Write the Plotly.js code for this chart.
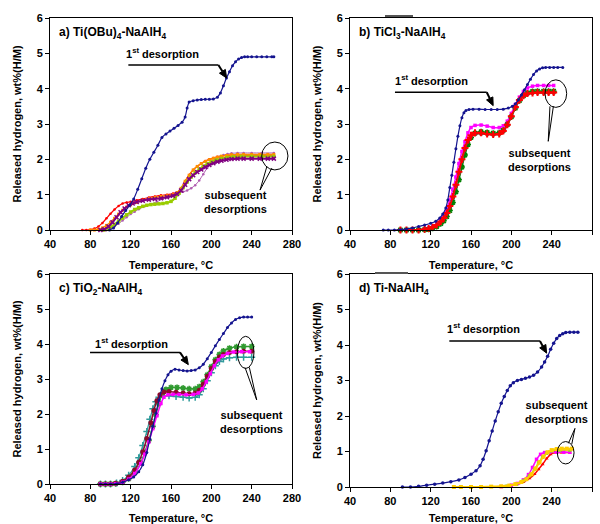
<!DOCTYPE html>
<html>
<head>
<meta charset="utf-8">
<script src="https://cdn.plot.ly/plotly-3.0.1.min.js"></script>
<style>html,body{margin:0;padding:0;background:#fff;}#chart{width:600px;height:524px;}</style>
</head>
<body>
<div id="chart"></div>
<script>
// ---------- DATA ----------
const panelLabels = ["a) Ti(OBu)<sub>4</sub>-NaAlH<sub>4</sub>", "b) TiCl<sub>3</sub>-NaAlH<sub>4</sub>", "c) TiO<sub>2</sub>-NaAlH<sub>4</sub>", "d) Ti-NaAlH<sub>4</sub>"];
const xTicks = [40, 80, 120, 160, 200, 240, 280];
const yTicks = [0, 1, 2, 3, 4, 5, 6];

// Panel a
const a_first_T = [99,103,107,111,115,119,123,127,131,135,139,143,147,151,155,159,163,167,171,174,176,178,182,186,190,194,198,202,206,209,212,215,218,221,224,227,230,233,236,240,245,250,255,260,262];
const a_first_H = [0,0.06,0.2,0.38,0.55,0.7,0.88,1.15,1.45,1.75,2.0,2.2,2.4,2.62,2.72,2.8,2.88,2.96,3.05,3.2,3.45,3.62,3.66,3.68,3.69,3.7,3.7,3.71,3.76,3.88,4.08,4.3,4.48,4.65,4.76,4.84,4.88,4.9,4.9,4.9,4.9,4.9,4.9,4.9,4.9];
const a_red_T = [72,76,80,84,88,92,96,100,104,108,112,116,120,126,132,138,144,150,156,162,166,170,174,178,182,186,190,194,198,202,206,210,215,220,226,232,240,248,256,262];
const a_red_H = [0,0,0.01,0.04,0.1,0.2,0.33,0.46,0.58,0.68,0.75,0.78,0.8,0.84,0.88,0.92,0.95,0.98,1.0,1.03,1.07,1.18,1.38,1.56,1.7,1.8,1.88,1.95,2.0,2.04,2.07,2.09,2.11,2.12,2.12,2.12,2.12,2.12,2.12,2.12];
const a_orange_T = [80,84,88,92,96,100,104,108,112,116,120,126,132,138,144,150,156,162,166,170,174,178,182,186,190,194,198,202,206,210,215,220,226,232,240,248,256,262];
const a_orange_H = [0,0,0.02,0.06,0.13,0.22,0.33,0.45,0.56,0.65,0.71,0.78,0.84,0.89,0.92,0.95,0.97,1.0,1.05,1.18,1.38,1.55,1.7,1.8,1.88,1.94,1.99,2.03,2.06,2.09,2.11,2.13,2.14,2.14,2.14,2.14,2.14,2.14];
const a_purple_T = [90,94,98,102,106,110,114,118,122,126,132,138,144,150,156,162,166,170,174,178,182,186,190,194,198,202,206,210,215,220,226,232,240,248,256,262];
const a_purple_H = [0,0.02,0.1,0.22,0.36,0.5,0.61,0.7,0.75,0.79,0.83,0.86,0.88,0.9,0.93,0.97,1.02,1.12,1.28,1.44,1.55,1.64,1.71,1.78,1.84,1.89,1.93,1.96,1.99,2.01,2.02,2.02,2.02,2.02,2.02,2.02];
const a_green_T = [93,96,100,104,108,112,116,120,124,128,132,136,140,144,148,152,156,160,164,168,172,176,180,184,188,192,196,200,205,210,216,222,230,240,250,262];
const a_green_H = [0,0.02,0.08,0.16,0.25,0.34,0.43,0.51,0.58,0.63,0.67,0.7,0.72,0.73,0.74,0.75,0.77,0.81,0.9,1.04,1.2,1.36,1.5,1.62,1.72,1.8,1.87,1.93,1.98,2.02,2.05,2.07,2.08,2.08,2.08,2.08];
const a_mauve_T = [96,100,104,108,112,116,120,124,128,134,140,146,152,158,164,168,172,176,180,184,188,192,196,200,204,208,212,216,220,226,232,240,250,262];
const a_mauve_H = [0,0.04,0.1,0.18,0.27,0.36,0.45,0.52,0.59,0.67,0.73,0.8,0.88,0.95,1.0,1.04,1.08,1.12,1.18,1.27,1.4,1.58,1.76,1.9,2.0,2.07,2.12,2.15,2.17,2.18,2.18,2.18,2.18,2.18];

// Panel b
const b_first_T = [73,78,84,90,96,102,108,114,120,125,129,132,135,137,139,141,143,145,147,149,151,153,155,158,162,168,174,180,186,192,197,201,204,207,210,213,216,219,222,225,228,231,234,238,242,246,251];
const b_first_H = [0,0,0,0.01,0.03,0.06,0.1,0.14,0.19,0.25,0.34,0.45,0.62,0.85,1.2,1.55,1.92,2.3,2.65,2.95,3.18,3.32,3.38,3.41,3.42,3.42,3.41,3.41,3.41,3.42,3.45,3.5,3.57,3.68,3.82,3.97,4.12,4.27,4.4,4.5,4.56,4.59,4.6,4.6,4.6,4.6,4.6];
const b_sub_T = [90,96,102,108,114,118,122,126,130,133,136,139,142,145,148,151,154,157,160,164,170,176,182,188,192,196,200,204,208,212,216,221,226,232,237,242];
const b_magenta_H = [0,0,0,0.01,0.03,0.06,0.11,0.19,0.3,0.42,0.6,0.85,1.15,1.5,1.88,2.22,2.5,2.75,2.9,2.96,2.97,2.94,2.9,2.9,2.95,3.08,3.3,3.55,3.76,3.92,4.02,4.07,4.09,4.09,4.09,4.09];
const b_green_H = [0,0,0,0,0.01,0.02,0.05,0.1,0.18,0.26,0.38,0.55,0.78,1.08,1.42,1.78,2.12,2.42,2.62,2.74,2.78,2.76,2.74,2.75,2.82,2.98,3.2,3.45,3.66,3.8,3.88,3.92,3.93,3.93,3.93,3.93];
const b_maroon_H = [0,0,0,0,0.02,0.04,0.08,0.14,0.23,0.33,0.47,0.66,0.92,1.24,1.6,1.95,2.28,2.5,2.64,2.71,2.72,2.7,2.69,2.71,2.78,2.96,3.2,3.46,3.66,3.78,3.84,3.87,3.88,3.88,3.88,3.88];
const b_red_H = [0,0,0,0,0.02,0.04,0.08,0.14,0.24,0.34,0.48,0.68,0.95,1.28,1.65,2.0,2.32,2.55,2.68,2.75,2.75,2.72,2.7,2.72,2.8,2.98,3.22,3.48,3.68,3.8,3.86,3.88,3.89,3.89,3.89,3.89];

// Panel c
const c_first_T = [90,95,100,106,112,118,123,128,132,136,139,142,145,148,151,154,157,160,164,168,172,176,180,184,188,192,196,200,204,208,212,216,220,224,228,232,236,240];
const c_first_H = [0,0,0,0.01,0.05,0.12,0.2,0.35,0.55,0.9,1.28,1.65,2.02,2.4,2.72,2.95,3.12,3.22,3.28,3.26,3.24,3.23,3.24,3.26,3.32,3.42,3.58,3.76,3.95,4.13,4.3,4.47,4.6,4.7,4.75,4.77,4.77,4.77];
const c_teal_T = [90,95,100,106,112,118,124,128,132,136,139,142,145,148,152,158,165,172,178,184,188,192,196,200,204,208,212,218,225,232,240];
const c_teal_H = [0,0,0,0.03,0.1,0.25,0.5,0.75,1.1,1.5,1.85,2.15,2.35,2.48,2.52,2.52,2.5,2.48,2.46,2.48,2.55,2.72,2.95,3.18,3.38,3.5,3.57,3.61,3.62,3.62,3.62];
const c_maroon_T = [90,95,100,105,112,118,124,128,132,136,140,143,146,149,153,158,165,172,178,184,188,192,196,200,204,208,212,218,225,232,240];
const c_maroon_H = [0,0,0,0.02,0.08,0.2,0.4,0.62,0.92,1.3,1.75,2.1,2.38,2.55,2.63,2.64,2.62,2.6,2.58,2.6,2.68,2.85,3.08,3.3,3.5,3.63,3.7,3.76,3.78,3.79,3.79];
const c_green_T = [90,95,100,105,112,118,124,130,134,138,142,145,148,151,155,160,166,172,178,184,188,192,196,200,204,208,212,218,225,232,240];
const c_green_H = [0,0,0,0.01,0.05,0.15,0.32,0.6,0.9,1.25,1.65,1.98,2.3,2.55,2.7,2.76,2.76,2.74,2.72,2.72,2.78,2.92,3.12,3.35,3.55,3.7,3.8,3.88,3.92,3.93,3.93];
const c_magenta_T = [90,95,100,105,112,118,124,130,134,138,142,146,150,153,157,162,168,175,182,187,191,195,199,203,207,211,216,222,230,238];
const c_magenta_H = [0,0,0,0.01,0.05,0.14,0.3,0.58,0.85,1.2,1.58,1.95,2.3,2.48,2.55,2.56,2.56,2.55,2.56,2.6,2.72,2.92,3.15,3.38,3.55,3.66,3.73,3.77,3.78,3.78];

// Panel d
const d_first_T = [92,100,108,116,124,132,140,148,154,160,165,169,172,175,178,181,184,187,190,193,196,199,202,206,210,214,218,222,226,230,233,236,239,242,245,248,251,254,258,262,266];
const d_first_H = [0,0,0.02,0.05,0.08,0.11,0.15,0.2,0.27,0.36,0.46,0.6,0.78,1.02,1.3,1.58,1.86,2.12,2.36,2.55,2.72,2.85,2.94,3.0,3.03,3.06,3.1,3.15,3.24,3.38,3.52,3.68,3.88,4.05,4.18,4.27,4.32,4.35,4.36,4.36,4.36];
const d_yellow_T = [143,150,160,170,180,190,198,204,210,215,220,224,228,232,236,240,245,250,255,260];
const d_yellow_H = [0,0,0,0,0.01,0.02,0.04,0.08,0.14,0.22,0.36,0.52,0.7,0.86,0.98,1.04,1.07,1.08,1.08,1.08];
const d_magenta_T = [190,200,206,212,217,221,225,229,233,238,245,252,258];
const d_magenta_H = [0.01,0.05,0.1,0.2,0.35,0.55,0.78,0.92,0.97,0.98,0.98,0.98,0.98];
const d_green_T = [195,205,212,218,223,227,231,235,240,248,258];
const d_green_H = [0.02,0.08,0.18,0.32,0.5,0.68,0.84,0.95,1.02,1.04,1.04];
const d_red_T = [195,205,212,218,223,227,231,235,239,243,250,258];
const d_red_H = [0.02,0.07,0.14,0.24,0.36,0.5,0.64,0.8,0.92,0.97,0.97,0.97];

// ---------- DRAW ----------
const NAVY = "#14148f";
function tr(xs, ys, ax, color, symbol, size, lw, mlw) {
  return {
    type: "scatter", mode: "lines+markers", x: xs, y: ys,
    xaxis: "x" + ax, yaxis: "y" + ax, cliponaxis: false, showlegend: false,
    line: {color: color, width: lw, shape: "spline", smoothing: 0.5},
    marker: {color: color, symbol: symbol, size: size, line: {color: color, width: mlw || 0}},
    hoverinfo: "x+y"
  };
}
const data = [
  tr(a_mauve_T, a_mauve_H, "", "#b05cb0", "circle", 2.5, 1),
  tr(a_red_T, a_red_H, "", "#ff0000", "circle", 2.5, 1.2),
  tr(a_orange_T, a_orange_H, "", "#ff8c00", "square", 3, 1.5),
  tr(a_green_T, a_green_H, "", "#99cc00", "square", 3.5, 2),
  tr(a_purple_T, a_purple_H, "", "#800080", "x-thin-open", 4, 2, 1.5),
  tr(a_first_T, a_first_H, "", NAVY, "circle", 3, 1.2),

  tr(b_sub_T, b_magenta_H, "2", "#ff00ff", "square", 3.5, 1.5),
  tr(b_sub_T, b_green_H, "2", "#008000", "asterisk-open", 5, 1.5, 1.5),
  tr(b_sub_T, b_maroon_H, "2", "#993333", "circle", 4, 1.5),
  tr(b_sub_T, b_red_H, "2", "#ff0000", "cross-thin-open", 5, 1.5, 2),
  tr(b_first_T, b_first_H, "2", NAVY, "circle", 3, 1.2),

  tr(c_teal_T, c_teal_H, "3", "#2e9a9a", "cross-thin-open", 5, 1.2, 1.5),
  tr(c_green_T, c_green_H, "3", "#2f9a2f", "asterisk-open", 5, 1.5, 1.5),
  tr(c_maroon_T, c_maroon_H, "3", "#8b0a2a", "circle", 5, 1.5),
  tr(c_magenta_T, c_magenta_H, "3", "#ff00ff", "square", 3.5, 1.5),
  tr(c_first_T, c_first_H, "3", NAVY, "circle", 3, 1.2),

  tr(d_red_T, d_red_H, "4", "#ff0000", "triangle-up", 3.5, 1.5),
  tr(d_magenta_T, d_magenta_H, "4", "#ff00ff", "square", 3.5, 1.5),
  tr(d_green_T, d_green_H, "4", "#99cc33", "square", 3.5, 1.5),
  tr(d_yellow_T, d_yellow_H, "4", "#ffcc00", "square", 4, 2),
  tr(d_first_T, d_first_H, "4", NAVY, "circle", 3.5, 1.2)
];

const FAM = "Arial, 'Liberation Sans', sans-serif";
const tickFont = {family: FAM, size: 11, color: "#000", weight: "bold"};
const titleFont = {family: FAM, size: 11, color: "#000", weight: "bold"};
function xax(domain, anchor) {
  return {domain: domain, anchor: anchor, range: [40, 280], tickvals: xTicks, ticktext: xTicks.map(String),
    ticks: "outside", ticklen: 4, tickcolor: "#000", showline: true, mirror: true, linecolor: "#000", linewidth: 1,
    showgrid: false, zeroline: false, tickfont: tickFont,
    title: {text: "Temperature, °C", font: titleFont, standoff: 12}};
}
function yax(domain, anchor) {
  return {domain: domain, anchor: anchor, range: [0, 6], tickvals: yTicks, ticktext: yTicks.map(String),
    ticks: "outside", ticklen: 4, tickcolor: "#000", showline: true, mirror: true, linecolor: "#000", linewidth: 1,
    showgrid: false, zeroline: false, tickfont: tickFont,
    title: {text: "Released hydrogen, wt%(H/M)", font: titleFont, standoff: 12}};
}
const W = 600, H = 524;
const XL = [50, 292], XR = [350, 592];
const YT = [18, 230], YB = [274, 484], YBd = [274, 487];
const dom = (a, b) => [a / W, b / W];
const domY = (p) => [1 - p[1] / H, 1 - p[0] / H];

const annFont = {family: FAM, size: 11, color: "#000", weight: "bold"};
const annotations = [];
const shapes = [];
const callouts = [
  {s: "", px: XL, py: YT, t1: [152, 5.0], l0: [117.7, 4.67], l1: [207, 4.67], tip: [215.2, 4.3], el: [250, 276, 1.7, 2.49], tb1: [255, 1.79], tb2: [260, 1.75], tt: [248.3, 1.13], st: [223.5, 0.78]},
  {s: "2", px: XR, py: YT, t1: [121, 4.24], l0: [84.6, 3.9], l1: [175.6, 3.9], tip: [182, 3.52], el: [233.4, 254.9, 3.47, 4.25], tb1: [238.3, 3.5], tb2: [241.7, 3.5], tt: [236.6, 2.51], st: [228.4, 1.97]},
  {s: "3", px: XL, py: YB, t1: [121, 4.03], l0: [79.7, 3.76], l1: [168.9, 3.76], tip: [177.2, 3.41], el: [225.8, 242.3, 3.3, 4.22], tb1: [233.4, 3.33], tb2: [237.7, 3.33], tt: [245, 2.4], st: [240, 1.78]},
  {s: "4", px: XR, py: YBd, t1: [172, 4.47], l0: [138.5, 4.11], l1: [228.4, 4.11], tip: [235, 3.77], el: [245.6, 262.2, 0.65, 1.28], tb1: [256.6, 1.23], tb2: [259.9, 1.2], tt: [263.1, 1.65], st: [245, 2.1]}
];
callouts.forEach((c, i) => {
  const xr = "x" + c.s, yr = "y" + c.s;
  const sx = (c.px[1] - c.px[0]) / 240, sy = (c.py[1] - c.py[0]) / 6;
  annotations.push({xref: xr + " domain", yref: yr + " domain", x: 0.03, y: 0.93, xanchor: "left", yanchor: "middle",
    text: panelLabels[i], showarrow: false, font: {family: FAM, size: 12, color: "#000", weight: "bold"}});
  annotations.push({xref: xr, yref: yr, x: c.t1[0], y: c.t1[1], text: "1<sup>st</sup> desorption", showarrow: false, font: annFont});
  annotations.push({xref: xr, yref: yr, x: c.st[0], y: c.st[1], text: "subsequent<br>desorptions", showarrow: false, font: annFont, align: "center"});
  shapes.push({type: "line", xref: xr, yref: yr, x0: c.l0[0], y0: c.l0[1], x1: c.l1[0], y1: c.l1[1], line: {color: "#000", width: 1.5}});
  const dxp = (c.tip[0] - c.l1[0]) * sx, dyp = -(c.tip[1] - c.l1[1]) * sy;
  const len = Math.hypot(dxp, dyp), ux = dxp / len, uy = dyp / len;
  const L = 8, Wd = 3.5;
  const bx = -ux * L, by = -uy * L;
  const p1 = [bx - uy * Wd, by + ux * Wd], p2 = [bx + uy * Wd, by - ux * Wd];
  const toD = (p) => [c.tip[0] + p[0] / sx, c.tip[1] - p[1] / sy];
  const B = toD([bx, by]), P1 = toD(p1), P2 = toD(p2);
  shapes.push({type: "line", xref: xr, yref: yr, x0: c.l1[0], y0: c.l1[1], x1: B[0], y1: B[1], line: {color: "#000", width: 2}});
  shapes.push({type: "path", xref: xr, yref: yr, path: `M ${c.tip[0]},${c.tip[1]} L ${P1[0]},${P1[1]} L ${P2[0]},${P2[1]} Z`,
    fillcolor: "#000", line: {color: "#000", width: 1}});
  shapes.push({type: "circle", xref: xr, yref: yr, x0: c.el[0], x1: c.el[1], y0: c.el[2], y1: c.el[3], line: {color: "#000", width: 1}});
  shapes.push({type: "path", xref: xr, yref: yr, path: `M ${c.tb1[0]},${c.tb1[1]} L ${c.tt[0]},${c.tt[1]} L ${c.tb2[0]},${c.tb2[1]}`, line: {color: "#000", width: 1}});
});
shapes.push({type: "line", xref: "paper", yref: "paper", x0: 385 / W, x1: 413 / W, y0: 1 - 16 / H, y1: 1 - 16 / H, line: {color: "#555", width: 2}});
shapes.push({type: "line", xref: "paper", yref: "paper", x0: 375 / W, x1: 408 / W, y0: 1 - 273 / H, y1: 1 - 273 / H, line: {color: "#555", width: 2}});

const layout = {
  width: W, height: H, margin: {l: 0, r: 0, t: 0, b: 0},
  paper_bgcolor: "#fff", plot_bgcolor: "#fff", showlegend: false,
  font: {family: FAM, color: "#000"},
  xaxis: xax(dom(...XL), "y"), yaxis: yax(domY(YT), "x"),
  xaxis2: xax(dom(...XR), "y2"), yaxis2: yax(domY(YT), "x2"),
  xaxis3: xax(dom(...XL), "y3"), yaxis3: yax(domY(YB), "x3"),
  xaxis4: xax(dom(...XR), "y4"), yaxis4: yax(domY(YBd), "x4"),
  annotations: annotations, shapes: shapes
};
Plotly.newPlot("chart", data, layout, {staticPlot: true, displayModeBar: false});
</script>
</body>
</html>
